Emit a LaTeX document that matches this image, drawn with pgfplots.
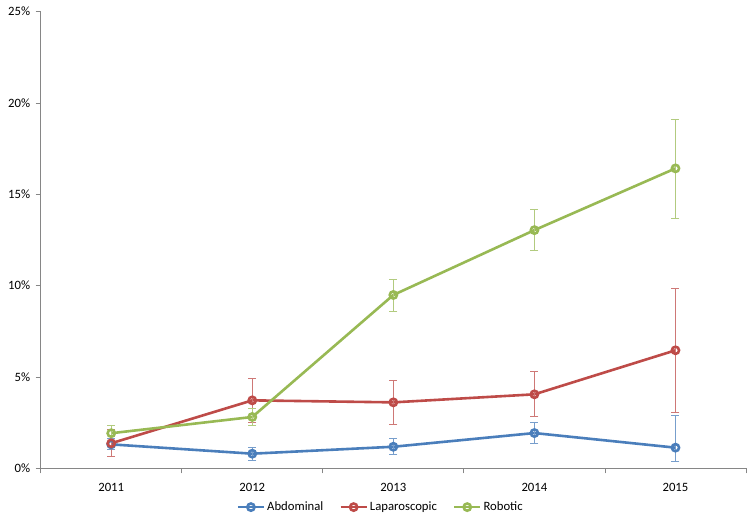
\documentclass[border=0pt]{standalone}
\usepackage{pgfplots}
\pgfplotsset{compat=1.18}
\usepackage{pgfplotstable}
\usepackage{fontspec}
\setmainfont{Carlito}
\definecolor{cblue}{HTML}{4A7EBB}
\definecolor{cred}{HTML}{BE4B48}
\definecolor{cgreen}{HTML}{98B954}
\definecolor{axgray}{HTML}{868686}

\pgfplotstableread{
x y ep em
0 1.31 0.30 0.30
1 0.80 0.35 0.35
2 1.18 0.46 0.41
3 1.93 0.59 0.58
4 1.13 1.75 0.78
}\abd
\pgfplotstableread{
x y ep em
0 1.37 0.73 0.73
1 3.72 1.21 1.22
2 3.61 1.22 1.20
3 4.05 1.26 1.24
4 6.46 3.37 3.40
}\lap
\pgfplotstableread{
x y ep em
0 1.92 0.43 0.47
1 2.81 0.49 0.49
2 9.49 0.86 0.92
3 13.04 1.14 1.11
4 16.42 2.70 2.72
}\rob

\begin{document}
\begin{tikzpicture}
\useasboundingbox (-40.7pt,-57.7pt) rectangle (713.3pt,468.3pt);
\begin{axis}[
  at={(0pt,0pt)}, anchor=south west,
  scale only axis, width=705.3pt, height=456.6pt,
  xmin=-0.5, xmax=4.5, ymin=0, ymax=25,
  axis lines*=left,
  axis line style={axgray, line width=0.8pt},
  tick pos=left, tick align=outside,
  xtick={0,1,2,3,4}, xticklabels={2011,2012,2013,2014,2015},
  major x tick style={draw=none},
  minor xtick={-0.5,0.5,1.5,2.5,3.5,4.5},
  minor tick length=5pt,
  minor x tick style={axgray, line width=0.8pt},
  ytick={0,5,10,15,20,25},
  major tick length=5pt,
  y tick style={axgray, line width=0.8pt},
  yticklabel={\pgfmathprintnumber{\tick}\%},
  /pgf/number format/assume math mode=true,
  ticklabel style={font=\fontsize{12.7}{15}\selectfont},
  xticklabel style={yshift=-6pt},
  yticklabel style={xshift=-2pt},
  legend columns=3,
  legend style={at={(0.482,-0.085)}, anchor=center, draw=none, fill=none,
    font=\fontsize{12.7}{15}\selectfont,
    /tikz/every even column/.append style={column sep=14pt}},
  legend cell align=left,
  legend image code/.code={\draw[mark repeat=2,mark phase=2] plot coordinates {(0pt,0pt)(13pt,0pt)(26pt,0pt)};},
  every axis plot/.append style={line width=2.6pt, mark=o, mark size=3.6pt,
    mark options={line width=1.4pt}},
  error bars/error bar style={line width=1pt},
  error bars/error mark options={rotate=90, mark size=4pt, line width=1pt},
]
\addplot[cblue, mark options={fill=cblue!25}, error bars/.cd, y dir=both, y explicit, error bar style={cblue!75}]
  table[x=x, y=y, y error plus=ep, y error minus=em]{\abd};
\addlegendentry{Abdominal}
\addplot[cred, mark options={fill=cred!25}, error bars/.cd, y dir=both, y explicit, error bar style={cred!75}]
  table[x=x, y=y, y error plus=ep, y error minus=em]{\lap};
\addlegendentry{Laparoscopic}
\addplot[cgreen, mark options={fill=cgreen!25}, error bars/.cd, y dir=both, y explicit, error bar style={cgreen!75}]
  table[x=x, y=y, y error plus=ep, y error minus=em]{\rob};
\addlegendentry{Robotic}
\end{axis}
\end{tikzpicture}
\end{document}
